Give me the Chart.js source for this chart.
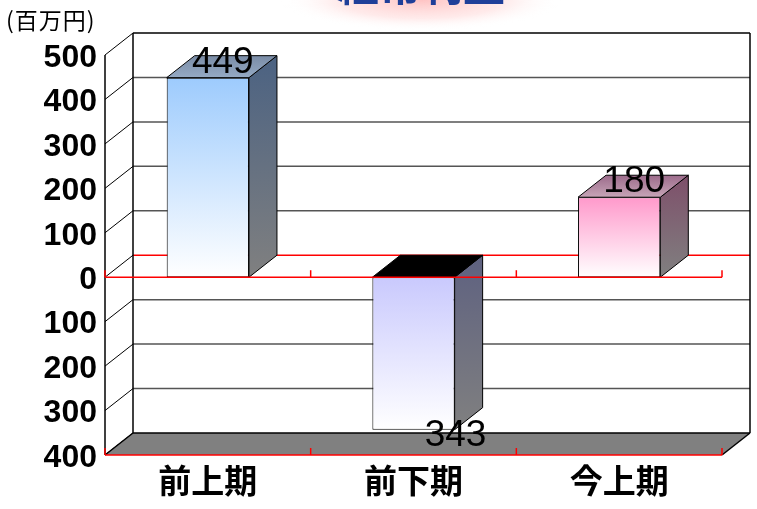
<!DOCTYPE html>
<html><head><meta charset="utf-8">
<script src="https://cdn.jsdelivr.net/npm/chart.js@4"></script>
<style>html,body{margin:0;padding:0;background:#fff;overflow:hidden}</style>
</head><body>
<canvas id="c" width="757" height="509"></canvas>
<script>
// ---- data ----
const titleText = '経常利益';
const unitText = '(百万円)';
const categories = ['前上期', '前下期', '今上期'];
const values = [449, -343, 180];
const yTickValues = [500, 400, 300, 200, 100, 0, -100, -200, -300, -400];

// ---- styles ----
const frontTopColors = ['#9DCBFD', '#C9C9FD', '#FF99CB'];
const sideTopColors = ['#4B6282', '#5E6180', '#7E4F6A'];
const sideBottomColor = '#808080';
const topFaceColors = [['#95AAC4', '#7A8CA6'], ['#000000', '#000000'], ['#C7A5B7', '#9C6B8B']];
const DX = 28, DY = -22;

function frontFill(ctx) {
  const chart = ctx.chart, i = ctx.dataIndex;
  const ys = chart.scales && chart.scales.y;
  if (!ys || !chart.chartArea || ctx.type !== 'data') return frontTopColors[i] || '#ccc';
  const v = values[i];
  const p0 = ys.getPixelForValue(0), pv = ys.getPixelForValue(v);
  const top = Math.min(p0, pv), bot = Math.max(p0, pv);
  if (!isFinite(top) || !isFinite(bot) || top === bot) return frontTopColors[i];
  const g = chart.ctx.createLinearGradient(0, top, 0, bot);
  g.addColorStop(0, frontTopColors[i]);
  g.addColorStop(1, '#FFFFFF');
  return g;
}

function seg(c, x1, y1, x2, y2) { c.beginPath(); c.moveTo(x1, y1); c.lineTo(x2, y2); c.stroke(); }
function poly(c, pts) { c.beginPath(); c.moveTo(pts[0][0], pts[0][1]); for (let k = 1; k < pts.length; k++) c.lineTo(pts[k][0], pts[k][1]); c.closePath(); }

const threeD = {
  id: 'threeD',
  beforeDraw(chart) {
    const c = chart.ctx;
    c.save();
    // glow behind title
    c.translate(421, 0);
    c.scale(1, 0.22);
    const g = c.createRadialGradient(0, 0, 0, 0, 0, 140);
    g.addColorStop(0, 'rgba(255,185,185,0.85)');
    g.addColorStop(0.6, 'rgba(255,210,210,0.45)');
    g.addColorStop(1, 'rgba(255,255,255,0)');
    c.fillStyle = g;
    c.fillRect(-150, -700, 300, 1400);
    c.restore();
    c.save();
    c.font = 'bold 42px "Noto Sans CJK JP"';
    c.fillStyle = '#1F3F99';
    c.textAlign = 'center';
    c.textBaseline = 'alphabetic';
    c.fillText(titleText, 421, 1);
    c.font = '23px "Noto Sans CJK JP"';
    c.fillStyle = '#000';
    c.textAlign = 'left';
    c.textBaseline = 'middle';
    try { c.letterSpacing = '1px'; } catch (e) {}
    c.fillText(unitText, 6, 20);
    c.restore();
  },
  beforeDatasetsDraw(chart) {
    const c = chart.ctx, ys = chart.scales.y, ca = chart.chartArea;
    const L = ca.left, R = ca.right;
    const T = ys.getPixelForValue(ys.max), B = ys.getPixelForValue(ys.min);
    c.save();
    c.lineWidth = 1.5;
    // back wall gridlines + side wall diagonals
    yTickValues.forEach(v => {
      const py = ys.getPixelForValue(v);
      if (v !== ys.max && v !== ys.min) {
        c.strokeStyle = v === 0 ? '#FF0000' : '#555555';
        seg(c, L + DX, py + DY, R + DX, py + DY);
      }
      c.strokeStyle = '#000';
      c.lineWidth = 1;
      seg(c, L, py, L + DX, py + DY);
      c.lineWidth = 1.5;
    });
    // floor
    c.fillStyle = '#808080';
    poly(c, [[L, B], [R, B], [R + DX, B + DY], [L + DX, B + DY]]);
    c.fill();
    // frame
    c.strokeStyle = '#000';
    c.lineWidth = 1.5;
    seg(c, L + DX, T + DY, R + DX, T + DY);
    seg(c, R + DX, T + DY, R + DX, B + DY);
    seg(c, L + DX, T + DY, L + DX, B + DY);
    seg(c, L + DX, B + DY, R + DX, B + DY);
    seg(c, R, B, R + DX, B + DY);
    seg(c, L, B, L + DX, B + DY);
    seg(c, L, T, L, B);
    c.restore();
  },
  afterDatasetsDraw(chart) {
    const c = chart.ctx, ys = chart.scales.y, ca = chart.chartArea;
    const L = ca.left, R = ca.right;
    const B = ys.getPixelForValue(ys.min), Z = ys.getPixelForValue(0);
    const meta = chart.getDatasetMeta(0);
    c.save();
    meta.data.forEach((bar, i) => {
      const p = bar.getProps(['x', 'y', 'base', 'width'], true);
      const left = p.x - p.width / 2, right = p.x + p.width / 2;
      const top = Math.min(p.y, p.base), bot = Math.max(p.y, p.base);
      // side face
      const sg = c.createLinearGradient(0, top + DY, 0, bot);
      sg.addColorStop(0, sideTopColors[i]);
      sg.addColorStop(1, sideBottomColor);
      poly(c, [[right, top], [right + DX, top + DY], [right + DX, bot + DY], [right, bot]]);
      c.fillStyle = sg; c.fill();
      c.strokeStyle = '#000'; c.lineWidth = 1; c.stroke();
      // top face
      const tg = c.createLinearGradient(0, top, 0, top + DY);
      tg.addColorStop(0, topFaceColors[i][0]);
      tg.addColorStop(1, topFaceColors[i][1]);
      poly(c, [[left, top], [right, top], [right + DX, top + DY], [left + DX, top + DY]]);
      c.fillStyle = tg; c.fill(); c.stroke();
    });
    // red axis lines on front plane
    c.strokeStyle = '#FF0000';
    c.lineWidth = 1.5;
    const n = categories.length;
    const cw = (R - L) / n;
    [Z, B].forEach(py => {
      seg(c, L, py, R, py);
      for (let k = 0; k <= n; k++) {
        const px = L + k * cw;
        seg(c, px, py, px, py - 7);
      }
    });
    // data labels
    c.fillStyle = '#000';
    c.font = '37px "Liberation Sans", Arial, sans-serif';
    c.textAlign = 'center';
    c.textBaseline = 'middle';
    meta.data.forEach((bar, i) => {
      const p = bar.getProps(['x', 'y'], true);
      const v = values[i];
      let lx, ly;
      if (v >= 0) { lx = p.x + DX / 2 + 1; ly = p.y - 15; }
      else { lx = p.x + 42; ly = p.y + 6; }
      c.fillText(String(Math.abs(v)), lx, ly);
    });
    c.restore();
  }
};

new Chart(document.getElementById('c'), {
  type: 'bar',
  data: {
    labels: categories,
    datasets: [{
      data: values,
      backgroundColor: frontFill,
      borderColor: '#000',
      borderWidth: 1,
      borderSkipped: false,
      barPercentage: 0.4,
      categoryPercentage: 1
    }]
  },
  options: {
    responsive: false,
    animation: false,
    devicePixelRatio: 1,
    layout: { padding: { top: 55, right: 35, left: 0, bottom: 0 } },
    plugins: { legend: { display: false }, tooltip: { enabled: false }, title: { display: false } },
    scales: {
      x: {
        grid: { display: false, drawTicks: false },
        border: { display: false },
        ticks: { font: { family: '"Noto Sans CJK JP"', size: 33, weight: 'bold' }, color: '#000', padding: 6 },
        afterFit(s) { s.height = 54; }
      },
      y: {
        min: -400, max: 500,
        afterBuildTicks(s) { s.ticks = yTickValues.map(v => ({ value: v })); },
        grid: { display: false, drawTicks: false },
        border: { display: false },
        ticks: {
          callback: v => String(Math.abs(v)),
          font: { family: '"Liberation Sans", Arial, sans-serif', size: 32, weight: 'bold' },
          color: '#000', padding: 8, labelOffset: 3
        },
        afterFit(s) { s.width = 105; }
      }
    }
  },
  plugins: [threeD]
});
</script>
</body></html>
